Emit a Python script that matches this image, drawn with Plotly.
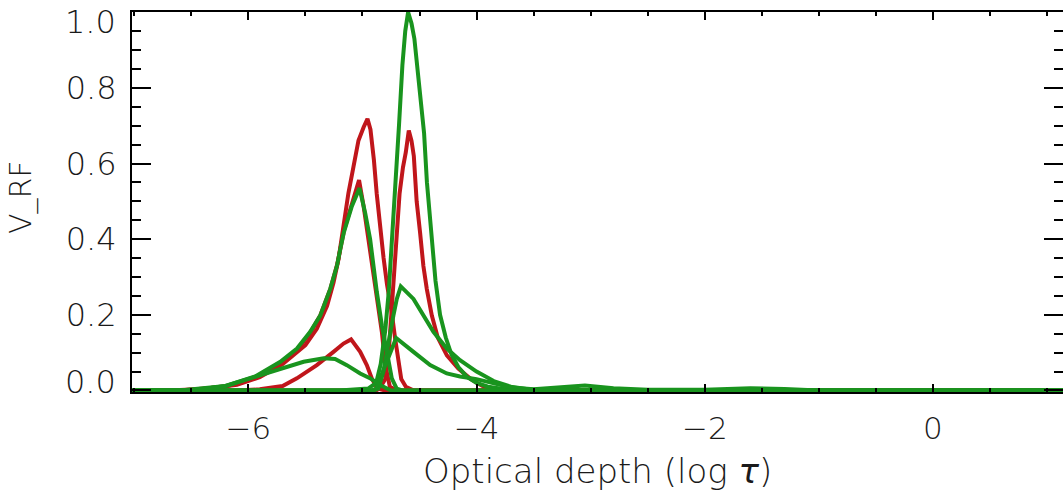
import plotly.graph_objects as go

# Response functions of Stokes V versus optical depth (log tau)
# Red curves
tau_r1 = [-7.02, -6.7, -6.4, -6.1, -5.9, -5.7, -5.5, -5.40, -5.31, -5.254, -5.21, -5.166, -5.123,
          -5.079, -5.035, -4.99, -4.956, -4.93, -4.90, -4.875, -4.845, -4.815, -4.785, -4.745,
          -4.715, -4.685, -4.66, -4.62, -4.55, 1.2]
v_r1 = [0.0, 0.0, 0.004, 0.015, 0.035, 0.07, 0.12, 0.163, 0.224, 0.285, 0.347, 0.434, 0.522,
        0.591, 0.661, 0.696, 0.718, 0.69, 0.61, 0.52, 0.43, 0.35, 0.28, 0.21,
        0.14, 0.07, 0.03, 0.01, 0.0, 0.0]

tau_r2 = [-7.02, -6.6, -6.2, -5.94, -5.72, -5.57, -5.46, -5.37, -5.28, -5.22, -5.16, -5.09,
          -5.03, -4.99, -4.933, -4.874, -4.83, -4.80, -4.76, -4.7, 1.2]
v_r2 = [0.0, 0.0, 0.01, 0.035, 0.072, 0.108, 0.152, 0.198, 0.27, 0.335, 0.425, 0.50,
        0.556, 0.487, 0.373, 0.242, 0.155, 0.067, 0.01, 0.0, 0.0]

tau_r3 = [-7.02, -4.88, -4.85, -4.80, -4.77, -4.745, -4.73, -4.71, -4.695, -4.675, -4.645, -4.62,
          -4.594, -4.57, -4.55, -4.525, -4.495, -4.466, -4.436, -4.392, -4.34, -4.26, -4.16,
          -4.05, -3.95, -3.8, -3.6, 1.2]
v_r3 = [0.0, 0.0, 0.005, 0.03, 0.10, 0.21, 0.26, 0.34, 0.42, 0.52, 0.59, 0.63,
        0.687, 0.66, 0.62, 0.50, 0.417, 0.329, 0.268, 0.198, 0.14, 0.093, 0.058,
        0.03, 0.012, 0.003, 0.0, 0.0]

tau_r4 = [-7.02, -6.1, -5.9, -5.7, -5.575, -5.40, -5.254, -5.166, -5.10, -5.02, -4.962, -4.918,
          -4.87, -4.8, 1.2]
v_r4 = [0.0, 0.0, 0.003, 0.012, 0.032, 0.067, 0.102, 0.124, 0.135, 0.102, 0.067, 0.032,
        0.005, 0.0, 0.0]

# Green curves
tau_g1 = [-7.02, -5.2, -4.95, -4.88, -4.84, -4.80, -4.77, -4.735, -4.71, -4.68, -4.65, -4.625,
          -4.60, -4.57, -4.545, -4.50, -4.46, -4.435, -4.40, -4.36, -4.32, -4.27, -4.22,
          -4.16, -4.08, -4.0, -3.9, -3.75, -3.6, 1.2]
v_g1 = [0.0, 0.0, 0.005, 0.02, 0.07, 0.16, 0.26, 0.42, 0.56, 0.70, 0.86, 0.95,
        1.0, 0.97, 0.93, 0.81, 0.68, 0.55, 0.42, 0.29, 0.20, 0.14, 0.095,
        0.062, 0.035, 0.02, 0.01, 0.003, 0.0, 0.0]

tau_g2 = [-7.02, -6.6, -6.2, -5.94, -5.72, -5.574, -5.458, -5.37, -5.283, -5.224, -5.195,
          -5.164, -5.093, -5.026, -4.976, -4.933, -4.874, -4.83, -4.786, -4.743, -4.70, -4.65, 1.2]
v_g2 = [0.0, 0.0, 0.012, 0.037, 0.076, 0.111, 0.155, 0.198, 0.268, 0.329, 0.373,
        0.417, 0.487, 0.535, 0.469, 0.40, 0.26, 0.172, 0.102, 0.032, 0.005, 0.0, 0.0]

tau_g3 = [-7.02, -4.9, -4.86, -4.816, -4.786, -4.758, -4.729, -4.699, -4.664, -4.553, -4.466,
          -4.378, -4.261, -4.145, -4.0, -3.85, -3.7, -3.55, -3.4, 1.2]
v_g3 = [0.0, 0.0, 0.005, 0.05, 0.102, 0.155, 0.198, 0.242, 0.275, 0.242, 0.198,
        0.155, 0.111, 0.080, 0.05, 0.025, 0.01, 0.003, 0.0, 0.0]

tau_g4 = [-7.02, -4.92, -4.88, -4.846, -4.80, -4.758, -4.705, -4.553, -4.407, -4.261, -4.145,
          -4.0, -3.85, -3.7, -3.5, -3.3, -3.05, -2.8, -2.5, -2.0, -1.6, -1.3, -1.0, 1.2]
v_g4 = [0.0, 0.0, 0.005, 0.032, 0.067, 0.102, 0.139, 0.102, 0.067, 0.045, 0.037,
        0.03, 0.02, 0.008, 0.003, 0.008, 0.013, 0.006, 0.002, 0.002, 0.006, 0.004, 0.0, 0.0]

tau_g5 = [-7.02, -6.5, -6.2, -5.925, -5.72, -5.516, -5.34, -5.24, -5.137, -5.02, -4.93,
          -4.85, -4.75, 1.2]
v_g5 = [0.0, 0.0, 0.012, 0.037, 0.058, 0.076, 0.085, 0.083, 0.067, 0.045, 0.032,
        0.015, 0.0, 0.0]

# Axis ticks and labels
y_tickvals = [0.0, 0.2, 0.4, 0.6, 0.8, 1.0]
y_ticktext = ["", "0.2", "0.4", "0.6", "0.8", ""]   # end labels are set inside the frame below
y_end_labels = ["0.0", "1.0"]
x_title = "Optical depth (log <i>τ</i>)"
y_title = "V_RF"

RED = "#c0161b"
GREEN = "#19941e"

red_curves = [(tau_r1, v_r1), (tau_r2, v_r2), (tau_r3, v_r3), (tau_r4, v_r4)]
green_curves = [(tau_g1, v_g1), (tau_g2, v_g2), (tau_g3, v_g3), (tau_g4, v_g4), (tau_g5, v_g5)]

fig = go.Figure()
for tau, v in red_curves:
    fig.add_trace(go.Scatter(x=tau, y=v, mode="lines",
                             line=dict(color=RED, width=4), showlegend=False))
for tau, v in green_curves:
    fig.add_trace(go.Scatter(x=tau, y=v, mode="lines",
                             line=dict(color=GREEN, width=4), showlegend=False))
# empty trace carrying the right-hand tick axis
fig.add_trace(go.Scatter(x=[], y=[], yaxis="y2", showlegend=False))

FONT = dict(family="DejaVu Sans", size=31, color="#1a1a1a", weight=200)
YFONT = dict(FONT, size=32)
YRANGE = [-0.004, 1.0005]

# plot frame in pixels: left 132, right 1063, top 12, bottom 392
PW, PH = 931.0, 380.0


def px_x(px):
    return (px - 132.0) / PW


def px_y(py):
    return (392.0 - py) / PH


fig.update_layout(
    width=1063, height=498, autosize=False,
    margin=dict(l=132, r=0, t=12, b=106, autoexpand=False),
    paper_bgcolor="white", plot_bgcolor="white",
    font=FONT,
    xaxis=dict(
        range=[-7.02, 1.14], showgrid=False, zeroline=False, automargin=False,
        showline=True, linecolor="black", linewidth=2, mirror="ticks",
        ticks="inside", ticklen=8, tickwidth=1.5, tickcolor="black",
        tick0=0, dtick=2, ticklabelstandoff=8,
        minor=dict(ticks="inside", ticklen=4, tickwidth=1.5, tickcolor="black", dtick=0.5),
        tickfont=FONT,
    ),
    yaxis=dict(
        range=YRANGE, showgrid=False, zeroline=False, automargin=False,
        showline=True, linecolor="black", linewidth=2,
        ticks="inside", ticklen=19, tickwidth=1.5, tickcolor="black",
        tickmode="array", tickvals=y_tickvals, ticktext=y_ticktext, ticklabelstandoff=7,
        minor=dict(ticks="inside", ticklen=9, tickwidth=1.5, tickcolor="black", dtick=0.05),
        tickfont=YFONT,
    ),
    yaxis2=dict(
        range=YRANGE, overlaying="y", side="right", anchor="x", automargin=False,
        showgrid=False, zeroline=False, showline=False, showticklabels=False,
        ticks="inside", ticklen=19, tickwidth=1.5, tickcolor="black",
        tick0=0, dtick=0.2,
        minor=dict(ticks="inside", ticklen=9, tickwidth=1.5, tickcolor="black", dtick=0.05),
    ),
)

annotations = [
    dict(text=x_title, x=0.5, y=px_y(471), xref="paper", yref="paper",
         xanchor="center", yanchor="middle", showarrow=False, font=dict(FONT, size=34)),
    dict(text=y_title, x=px_x(21), y=px_y(197), xref="paper", yref="paper",
         xanchor="center", yanchor="middle", textangle=-90, showarrow=False,
         font=dict(FONT, size=30)),
    dict(text=y_end_labels[0], x=px_x(118), y=px_y(382), xref="paper", yref="paper",
         xanchor="right", yanchor="middle", showarrow=False, font=YFONT),
    dict(text=y_end_labels[1], x=px_x(118), y=px_y(22), xref="paper", yref="paper",
         xanchor="right", yanchor="middle", showarrow=False, font=YFONT),
]
fig.update_layout(annotations=annotations)

fig.write_html("out.html")
